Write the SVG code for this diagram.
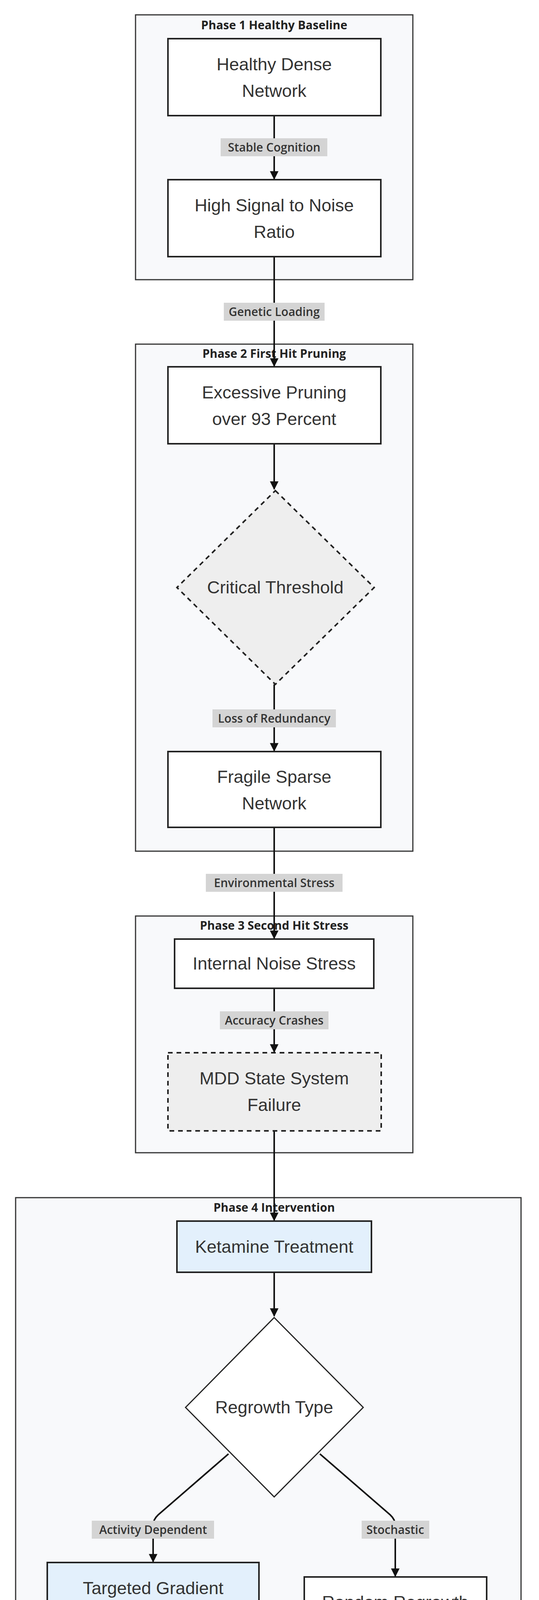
<svg xmlns="http://www.w3.org/2000/svg" width="1380" height="4675" viewBox="0 0 1380 4675">
<style>
.cl{fill:#f8f9fb;stroke:#333;stroke-width:3}
.ct{font-family:"Open Sans","DejaVu Sans",sans-serif;font-weight:700;font-size:30px;fill:#222;text-anchor:middle}
.n{fill:#fff;stroke:#222;stroke-width:4}
.blue{fill:#e3f0fc}
.gray{fill:#eeeeee}
.nt{font-family:"Liberation Sans",Arial,sans-serif;font-size:45px;fill:#333;text-anchor:middle}
.e{fill:none;stroke:#111;stroke-width:4;marker-end:url(#ah)}
.lb{fill:#d4d4d4}
.lt{font-family:"Open Sans","DejaVu Sans",sans-serif;font-weight:600;font-size:30px;fill:#333;text-anchor:middle}
</style>
<defs>
<marker id="ah" viewBox="0 0 10 10" refX="9" refY="5" markerWidth="5.5" markerHeight="5.5" markerUnits="strokeWidth" orient="auto">
<path d="M0,0 L10,5 L0,10 z" fill="#111"/>
</marker>
</defs>
<rect width="1380" height="4675" fill="#fff"/>
<g id="clusters">
<g id="phase1"><rect class="cl" x="347" y="38" width="710" height="678"/><text class="ct" x="702" y="75">Phase 1 Healthy Baseline</text></g>
<g id="phase2"><rect class="cl" x="347" y="881" width="710" height="1298"/><text class="ct" x="702" y="916">Phase 2 First Hit Pruning</text></g>
<g id="phase3"><rect class="cl" x="347" y="2345" width="710" height="606"/><text class="ct" x="702" y="2380">Phase 3 Second Hit Stress</text></g>
<g id="phase4"><rect class="cl" x="40" y="3066" width="1294" height="1194"/><text class="ct" x="702" y="3102">Phase 4 Intervention</text></g>
<g id="phase5"><rect class="cl" x="63" y="4429" width="1273" height="232"/><text class="ct" x="702" y="4464">Phase 5 Outcome</text></g>
</g>
<g id="connectors">
<path class="e" d="M702,296 V458"/>
<path class="e" d="M702,657 V937"/>
<path class="e" d="M702,1136 V1252"/>
<path class="e" d="M702,1752 V1922"/>
<path class="e" d="M702,2118 V2402"/>
<path class="e" d="M702,2530 V2693"/>
<path class="e" d="M702,2895 V3124"/>
<path class="e" d="M702,3257 V3369"/>
<path class="e" d="M585,3722 L405,3878 Q392,3890 392,3905 V3998"/>
<path class="e" d="M819,3722 L999,3878 Q1012,3890 1012,3905 V4035"/>
<path class="e" d="M392,4202 V4487"/>
<path class="e" d="M1012,4165 V4487"/>
<g id="labels">
<rect class="lb" x="565" y="354" width="273" height="46"/><text class="lt" x="702" y="388">Stable Cognition</text>
<rect class="lb" x="573" y="775" width="258" height="46"/><text class="lt" x="702" y="809">Genetic Loading</text>
<rect class="lb" x="544" y="1816" width="316" height="46"/><text class="lt" x="702" y="1850">Loss of Redundancy</text>
<rect class="lb" x="527" y="2237" width="350" height="46"/><text class="lt" x="702" y="2271">Environmental Stress</text>
<rect class="lb" x="563" y="2589" width="278" height="46"/><text class="lt" x="702" y="2623">Accuracy Crashes</text>
<rect class="lb" x="235" y="3893" width="313" height="46"/><text class="lt" x="392" y="3927">Activity Dependent</text>
<rect class="lb" x="926" y="3893" width="173" height="46"/><text class="lt" x="1012" y="3927">Stochastic</text>
<rect class="lb" x="288" y="4321" width="209" height="46"/><text class="lt" x="392" y="4355">High Efficacy</text>
<rect class="lb" x="895" y="4321" width="234" height="46"/><text class="lt" x="1012" y="4355">Lower Efficacy</text>
</g>
</g>
<g id="nodes">
<g id="healthy"><rect class="n" x="430" y="99" width="545" height="197"/><text class="nt" x="702" y="180">Healthy Dense</text><text class="nt" x="702" y="248">Network</text></g>
<g id="snr"><rect class="n" x="430" y="460" width="545" height="197"/><text class="nt" x="702" y="541">High Signal to Noise</text><text class="nt" x="702" y="609">Ratio</text></g>
<g id="pruning"><rect class="n" x="430" y="939" width="545" height="197"/><text class="nt" x="702" y="1020">Excessive Pruning</text><text class="nt" x="702" y="1088">over 93 Percent</text></g>
<g id="threshold"><path class="n gray" style="stroke-dasharray:12 10" d="M705,1256 L958,1504 L705,1752 L453,1504 Z"/><text class="nt" x="705" y="1519">Critical Threshold</text></g>
<g id="fragile"><rect class="n" x="430" y="1924" width="545" height="194"/><text class="nt" x="702" y="2004">Fragile Sparse</text><text class="nt" x="702" y="2072">Network</text></g>
<g id="noise"><rect class="n" x="447" y="2404" width="510" height="126"/><text class="nt" x="702" y="2482">Internal Noise Stress</text></g>
<g id="mdd"><rect class="n gray" style="stroke-dasharray:12 10" x="430" y="2695" width="546" height="200"/><text class="nt" x="702" y="2776">MDD State System</text><text class="nt" x="702" y="2844">Failure</text></g>
<g id="ketamine"><rect class="n blue" x="453" y="3126" width="498" height="131"/><text class="nt" x="702" y="3207">Ketamine Treatment</text></g>
<g id="regrowth"><path class="n" style="stroke-width:3" d="M702,3373 L930,3603 L702,3832 L475,3603 Z"/><text class="nt" x="702" y="3618">Regrowth Type</text></g>
<g id="targeted"><rect class="n blue" x="121" y="4000" width="542" height="202"/><text class="nt" x="392" y="4081">Targeted Gradient</text><text class="nt" x="392" y="4149">Guided</text></g>
<g id="random"><rect class="n" x="779" y="4037" width="467" height="128"/><text class="nt" x="1012" y="4117">Random Regrowth</text></g>
<g id="resilience"><rect class="n" x="145" y="4489" width="493" height="128"/><text class="nt" x="391" y="4568">Resilience Restored</text></g>
<g id="suboptimal"><rect class="n" x="768" y="4489" width="488" height="128"/><text class="nt" x="1012" y="4568">Suboptimal Stability</text></g>
</g>
</svg>
